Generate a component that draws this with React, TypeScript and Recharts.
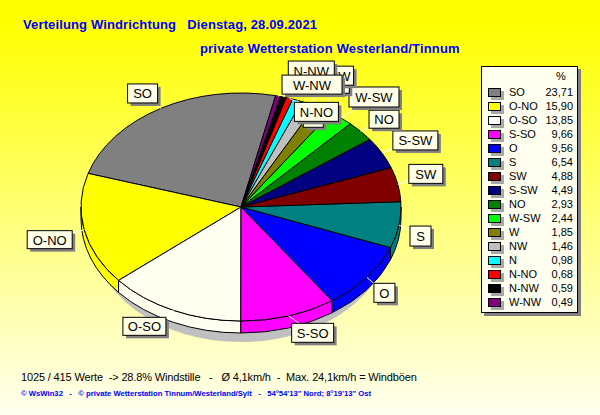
import { Cell, Legend, Pie, PieChart } from 'recharts';

const DIRECTIONS = ['SO', 'O-NO', 'O-SO', 'S-SO', 'O', 'S', 'SW', 'S-SW', 'NO', 'W-SW', 'W', 'NW', 'N', 'N-NO', 'N-NW', 'W-NW'];
const PERCENTS = [23.71, 15.9, 13.85, 9.66, 9.56, 6.54, 4.88, 4.49, 2.93, 2.44, 1.85, 1.46, 0.98, 0.68, 0.59, 0.49];
const COLORS = ['#808080', '#FFFF00', '#FFFFF0', '#FF00FF', '#0000FF', '#008080', '#800000', '#000080', '#008000', '#00FF00', '#808000', '#C0C0C0', '#00FFFF', '#FF0000', '#000000', '#800080'];
const LEGEND_COLORS = COLORS.map((c) => (c === '#FFFFF0' ? '#FFFFFF' : c));

const TITLE = 'Verteilung Windrichtung   Dienstag, 28.09.2021';
const SUBTITLE = 'private Wetterstation Westerland/Tinnum';
const SUMMARY = '1025 / 415 Werte  -> 28.8% Windstille   -   Ø 4,1km/h  -  Max. 24,1km/h = Windböen';
const FOOTER = '© WsWin32   -   © private Wetterstation Tinnum/Westerland/Sylt   -   54°54\'13" Nord; 8°19\'13" Ost';

// label box: dx, dy from the slice edge to the box centre, then width and height
const LABEL_BOXES: Record<string, number[]> = {
    SO: [-18, -15, 30, 19],
    'O-NO': [-34.5, 10, 45, 18],
    'O-SO': [-29, 16, 43, 18],
    'S-SO': [24, 17, 42, 19],
    O: [17.5, 15.5, 21, 19],
    S: [21.5, 11, 21, 20],
    SW: [28, -10.5, 34, 19],
    'S-SW': [33.5, -12.5, 45, 19],
    NO: [23.5, -12, 30, 18],
    'W-SW': [33, -21, 50, 20],
    W: [15, -25.5, 22, 19],
    NW: [31, -28, 28, 19],
    N: [16, 17.5, 20, 19],
    'N-NO': [27, 13.5, 44, 19],
    'N-NW': [28, -26, 46, 20],
    'W-NW': [34, -11.5, 60, 19],
};

const SQUASH = 114 / 160;
const DEPTH = 12;
const FONT = '"Liberation Sans", Arial, sans-serif';

const data = DIRECTIONS.map((name, i) => ({ name, value: PERCENTS[i] }));

const edgePoint = (cx: number, cy: number, r: number, deg: number) => ({
    x: cx + r * Math.cos((deg * Math.PI) / 180),
    y: cy - r * SQUASH * Math.sin((deg * Math.PI) / 180),
});

const arcPath = (cx: number, cy: number, r: number, from: number, to: number, dy = 0) => {
    const end = edgePoint(cx, cy, r, to);
    const large = Math.abs(to - from) > 180 ? 1 : 0;
    return `A ${r} ${r * SQUASH} 0 ${large} 0 ${end.x} ${end.y + dy}`;
};

// pie seen at an angle: squashed top face, side wall on the front half
const TiltedSector = (props: any) => {
    const { cx, cy, outerRadius: r, startAngle, endAngle, fill } = props;
    const start = edgePoint(cx, cy, r, startAngle);
    const top = `M ${cx} ${cy} L ${start.x} ${start.y} ${arcPath(cx, cy, r, startAngle, endAngle)} Z`;

    // front part of the rim is where the angle lies between 180 and 360
    const walls: string[] = [];
    for (const turn of [0, 360]) {
        const from = Math.max(startAngle, 180 + turn);
        const to = Math.min(endAngle, 360 + turn);
        if (to > from) {
            const a = edgePoint(cx, cy, r, from);
            const b = edgePoint(cx, cy, r, to);
            walls.push(
                `M ${a.x} ${a.y} ${arcPath(cx, cy, r, from, to)} L ${b.x} ${b.y + DEPTH} ` +
                    `A ${r} ${r * SQUASH} 0 0 1 ${a.x} ${a.y + DEPTH} Z`,
            );
        }
    }

    return (
        <g>
            {walls.map((d, i) => (
                <path key={i} d={d} fill={fill} stroke="#000" strokeWidth={1} />
            ))}
            <path d={top} fill={fill} stroke="#000" strokeWidth={1} />
        </g>
    );
};

const BoxLabel = (props: any) => {
    const { cx, cy, outerRadius, midAngle, name } = props;
    const [dx, dy, w, h] = LABEL_BOXES[name];
    const p = edgePoint(cx, cy, outerRadius, midAngle);
    const bx = p.x + dx;
    const by = p.y + dy;
    return (
        <g>
            <line x1={p.x} y1={p.y} x2={bx} y2={by} stroke="#fff" strokeWidth={1} />
            <rect x={bx - w / 2 + 3} y={by - h / 2 + 3} width={w} height={h} fill="#808080" />
            <rect x={bx - w / 2} y={by - h / 2} width={w} height={h} fill="#FFFFE8" stroke="#000" strokeWidth={1} />
            <text x={bx} y={by + 5} textAnchor="middle" fontSize={13} fontFamily={FONT} fill="#000">
                {name}
            </text>
        </g>
    );
};

const WindLegend = () => (
    <div style={{ position: 'relative', width: 97, height: 247, background: '#FFFFF0', border: '1px solid #000', boxSizing: 'border-box', boxShadow: '3px 3px 0 #808080', fontFamily: FONT, fontSize: 11, color: '#000' }}>
        <div style={{ position: 'absolute', left: 74, top: 3 }}>%</div>
        {DIRECTIONS.map((name, i) => (
            <div key={name} style={{ position: 'absolute', left: 0, top: 18 + i * 14, width: 95, height: 14, lineHeight: '14px' }}>
                <span style={{ position: 'absolute', left: 6, top: 3, width: 11, height: 7, background: LEGEND_COLORS[i], border: '1px solid #000', boxShadow: '3px 3px 0 #A8A8A8' }} />
                <span style={{ position: 'absolute', left: 27 }}>{name}</span>
                <span style={{ position: 'absolute', right: 4 }}>{PERCENTS[i].toFixed(2).replace('.', ',')}</span>
            </div>
        ))}
    </div>
);

const textStyle = { position: 'absolute', whiteSpace: 'pre', fontFamily: FONT } as const;

export default function App() {
    return (
        <div style={{ position: 'fixed', left: 0, top: 0, width: 600, height: 415, background: 'linear-gradient(#FFFF00 0%, #FFFF00 5%, #FFFFF0 100%)' }}>
            <div style={{ ...textStyle, left: 23, top: 17, fontSize: 13, fontWeight: 700, letterSpacing: 0.13, color: '#0000FF' }}>{TITLE}</div>
            <div style={{ ...textStyle, left: 200, top: 41, fontSize: 13, fontWeight: 700, letterSpacing: 0.18, color: '#0000FF' }}>{SUBTITLE}</div>
            <PieChart width={600} height={415} margin={{ top: 0, right: 0, bottom: 0, left: 0 }} style={{ position: 'absolute', left: 0, top: 0 }}>
                <ellipse cx={241} cy={232} rx={150} ry={110} fill="#C0C0C0" />
                <Pie
                    dataKey="value"
                    nameKey="name"
                    data={data}
                    cx={241}
                    cy={207}
                    innerRadius={0}
                    outerRadius={160}
                    startAngle={77.5}
                    endAngle={437.5}
                    isAnimationActive={false}
                    shape={TiltedSector}
                    label={BoxLabel}
                    labelLine={false}
                >
                    {data.map((entry, index) => (
                        <Cell key={`cell-${entry.name}`} fill={COLORS[index]} />
                    ))}
                </Pie>
                <Legend content={<WindLegend />} wrapperStyle={{ position: 'absolute', left: 481, top: 66, width: 97, height: 247 }} />
            </PieChart>
            <div style={{ ...textStyle, left: 21, top: 371, fontSize: 11, letterSpacing: -0.145, color: '#000' }}>{SUMMARY}</div>
            <div style={{ ...textStyle, left: 21, top: 389, fontSize: 7.7, fontWeight: 700, color: '#0000FF' }}>{FOOTER}</div>
        </div>
    );
}
